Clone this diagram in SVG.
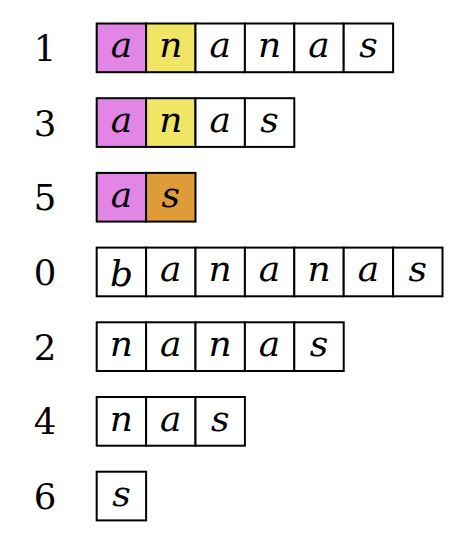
<svg xmlns="http://www.w3.org/2000/svg" width="460" height="536" viewBox="0 0 460 536">
<style>
.c{fill:#ffffff;stroke:#000;stroke-width:2}
.p{fill:#E286E6}
.y{fill:#F0E565}
.o{fill:#DE9B38}
.l{font-family:'DejaVu Serif',serif;font-style:italic;font-size:36px;text-anchor:middle;fill:#000}
.d{font-family:'DejaVu Serif',serif;font-size:35.5px;text-anchor:middle;fill:#000}
</style>
<rect width="460" height="536" fill="#fff"/>
<g id="row1">
<text class="d" x="45" y="60.8">1</text>
<rect class="c p" x="96.7" y="23.5" width="49.4" height="48.7"/>
<rect class="c y" x="146.1" y="23.5" width="49.4" height="48.7"/>
<rect class="c" x="195.5" y="23.5" width="49.4" height="48.7"/>
<rect class="c" x="244.9" y="23.5" width="49.4" height="48.7"/>
<rect class="c" x="294.3" y="23.5" width="49.4" height="48.7"/>
<rect class="c" x="343.7" y="23.5" width="49.4" height="48.7"/>
<text class="l" x="121.4" y="57.3">a</text>
<text class="l" x="170.8" y="57.3">n</text>
<text class="l" x="220.2" y="57.3">a</text>
<text class="l" x="269.6" y="57.3">n</text>
<text class="l" x="319" y="57.3">a</text>
<text class="l" x="368.4" y="57.3">s</text>
</g>
<g id="row3">
<text class="d" x="45" y="135.5">3</text>
<rect class="c p" x="96.7" y="98.2" width="49.4" height="48.7"/>
<rect class="c y" x="146.1" y="98.2" width="49.4" height="48.7"/>
<rect class="c" x="195.5" y="98.2" width="49.4" height="48.7"/>
<rect class="c" x="244.9" y="98.2" width="49.4" height="48.7"/>
<text class="l" x="121.4" y="132">a</text>
<text class="l" x="170.8" y="132">n</text>
<text class="l" x="220.2" y="132">a</text>
<text class="l" x="269.6" y="132">s</text>
</g>
<g id="row5">
<text class="d" x="45" y="210.2">5</text>
<rect class="c p" x="96.7" y="172.9" width="49.4" height="48.7"/>
<rect class="c o" x="146.1" y="172.9" width="49.4" height="48.7"/>
<text class="l" x="121.4" y="206.7">a</text>
<text class="l" x="170.8" y="206.7">s</text>
</g>
<g id="row0">
<text class="d" x="45" y="284.9">0</text>
<rect class="c" x="96.7" y="247.6" width="49.4" height="48.7"/>
<rect class="c" x="146.1" y="247.6" width="49.4" height="48.7"/>
<rect class="c" x="195.5" y="247.6" width="49.4" height="48.7"/>
<rect class="c" x="244.9" y="247.6" width="49.4" height="48.7"/>
<rect class="c" x="294.3" y="247.6" width="49.4" height="48.7"/>
<rect class="c" x="343.7" y="247.6" width="49.4" height="48.7"/>
<rect class="c" x="393.1" y="247.6" width="49.4" height="48.7"/>
<text class="l" x="121.4" y="285.5">b</text>
<text class="l" x="170.8" y="281.4">a</text>
<text class="l" x="220.2" y="281.4">n</text>
<text class="l" x="269.6" y="281.4">a</text>
<text class="l" x="319" y="281.4">n</text>
<text class="l" x="368.4" y="281.4">a</text>
<text class="l" x="417.8" y="281.4">s</text>
</g>
<g id="row2">
<text class="d" x="45" y="359.6">2</text>
<rect class="c" x="96.7" y="322.3" width="49.4" height="48.7"/>
<rect class="c" x="146.1" y="322.3" width="49.4" height="48.7"/>
<rect class="c" x="195.5" y="322.3" width="49.4" height="48.7"/>
<rect class="c" x="244.9" y="322.3" width="49.4" height="48.7"/>
<rect class="c" x="294.3" y="322.3" width="49.4" height="48.7"/>
<text class="l" x="121.4" y="356.1">n</text>
<text class="l" x="170.8" y="356.1">a</text>
<text class="l" x="220.2" y="356.1">n</text>
<text class="l" x="269.6" y="356.1">a</text>
<text class="l" x="319" y="356.1">s</text>
</g>
<g id="row4">
<text class="d" x="45" y="434.3">4</text>
<rect class="c" x="96.7" y="397" width="49.4" height="48.7"/>
<rect class="c" x="146.1" y="397" width="49.4" height="48.7"/>
<rect class="c" x="195.5" y="397" width="49.4" height="48.7"/>
<text class="l" x="121.4" y="430.8">n</text>
<text class="l" x="170.8" y="430.8">a</text>
<text class="l" x="220.2" y="430.8">s</text>
</g>
<g id="row6">
<text class="d" x="45" y="509">6</text>
<rect class="c" x="96.7" y="471.7" width="49.4" height="48.7"/>
<text class="l" x="121.4" y="505.5">s</text>
</g>
</svg>
